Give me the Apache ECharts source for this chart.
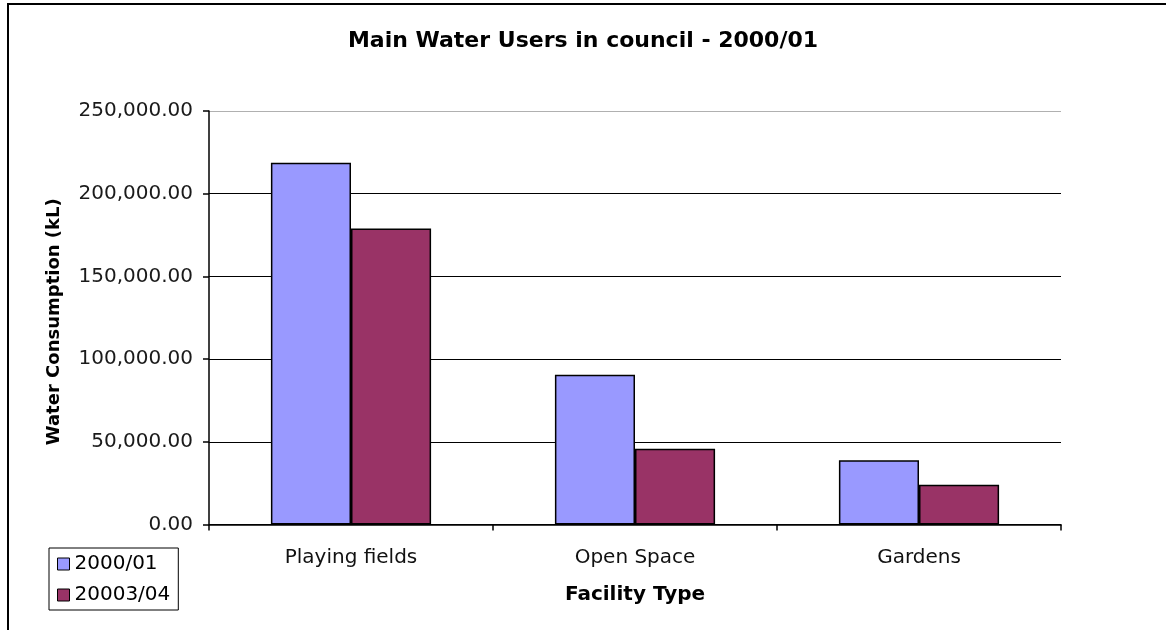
<!DOCTYPE html>
<html>
<head>
<meta charset="utf-8">
<script src="https://cdn.jsdelivr.net/npm/echarts@6/dist/echarts.min.js"></script>
<style>
  html, body { margin: 0; padding: 0; background: #fff; }
  #chart { width: 1166px; height: 630px; }
</style>
</head>
<body>
<div id="chart"></div>
<script>
// Facility types along the x axis
const categories = ['Playing fields', 'Open Space', 'Gardens'];
// Water consumption per facility type, kL
const season2000 = [218700, 90600, 38800];
const season2003 = [179000, 45800, 24100];
const seriesNames = ['2000/01', '20003/04'];

const chart = echarts.init(document.getElementById('chart'));
const font = '"DejaVu Sans", "Liberation Sans", Arial, sans-serif';

chart.setOption({
  backgroundColor: '#fff',
  animation: false,
  title: {
    text: 'Main Water Users in council - 2000/01',
    left: 'center',
    top: 25,
    textStyle: { fontFamily: font, fontSize: 22, fontWeight: 'bold', color: '#000' }
  },
  graphic: [{
    type: 'rect',
    shape: { x: 8, y: 4, width: 1170, height: 640 },
    style: { fill: 'none', stroke: '#000', lineWidth: 2 },
    silent: true
  }],
  legend: {
    orient: 'vertical',
    left: 49,
    top: 548,
    data: seriesNames,
    itemWidth: 12,
    itemHeight: 12,
    itemGap: 11,
    padding: [6, 8, 5, 8],
    borderColor: '#000',
    borderWidth: 1,
    icon: 'rect',
    textStyle: { fontFamily: font, fontSize: 20, color: '#000', padding: [2, 0, 0, 0] },
    itemStyle: { borderColor: '#000', borderWidth: 1 }
  },
  grid: { left: 209, right: 105, top: 111, bottom: 105.5, containLabel: false },
  xAxis: {
    type: 'category',
    data: categories,
    name: 'Facility Type',
    nameLocation: 'middle',
    nameGap: 60,
    nameTextStyle: { fontFamily: font, fontSize: 20, fontWeight: 'bold', color: '#000' },
    axisLine: { lineStyle: { color: '#000', width: 1.5 } },
    axisTick: { show: true, length: 6, inside: false, lineStyle: { color: '#000', width: 1.5 } },
    axisLabel: { fontFamily: font, fontSize: 20, color: '#111', margin: 23 }
  },
  yAxis: {
    type: 'value',
    min: 0,
    max: 250000,
    interval: 50000,
    name: 'Water Consumption (kL)',
    nameLocation: 'middle',
    nameGap: 146,
    nameTextStyle: { fontFamily: font, fontSize: 18, fontWeight: 'bold', color: '#000', padding: [0, 8, 0, 0] },
    axisLine: { show: true, lineStyle: { color: '#000', width: 1.5 } },
    axisTick: { show: true, length: 6, lineStyle: { color: '#000', width: 1.5 } },
    axisLabel: {
      fontFamily: font, fontSize: 20, color: '#1a1a1a', margin: 16,
      formatter: v => v.toLocaleString('en-US', { minimumFractionDigits: 2, maximumFractionDigits: 2 })
    },
    splitLine: {
      show: true,
      lineStyle: { color: ['#000', '#000', '#000', '#000', '#000', '#b0b0b0'], width: 1 }
    }
  },
  series: [
    {
      name: seriesNames[0],
      type: 'bar',
      data: season2000,
      barGap: '0%',
      barCategoryGap: '43.6%',
      itemStyle: { color: '#9999FF', borderColor: '#000', borderWidth: 1.5 }
    },
    {
      name: seriesNames[1],
      type: 'bar',
      data: season2003,
      itemStyle: { color: '#993366', borderColor: '#000', borderWidth: 1.5 }
    }
  ]
});
</script>
</body>
</html>
